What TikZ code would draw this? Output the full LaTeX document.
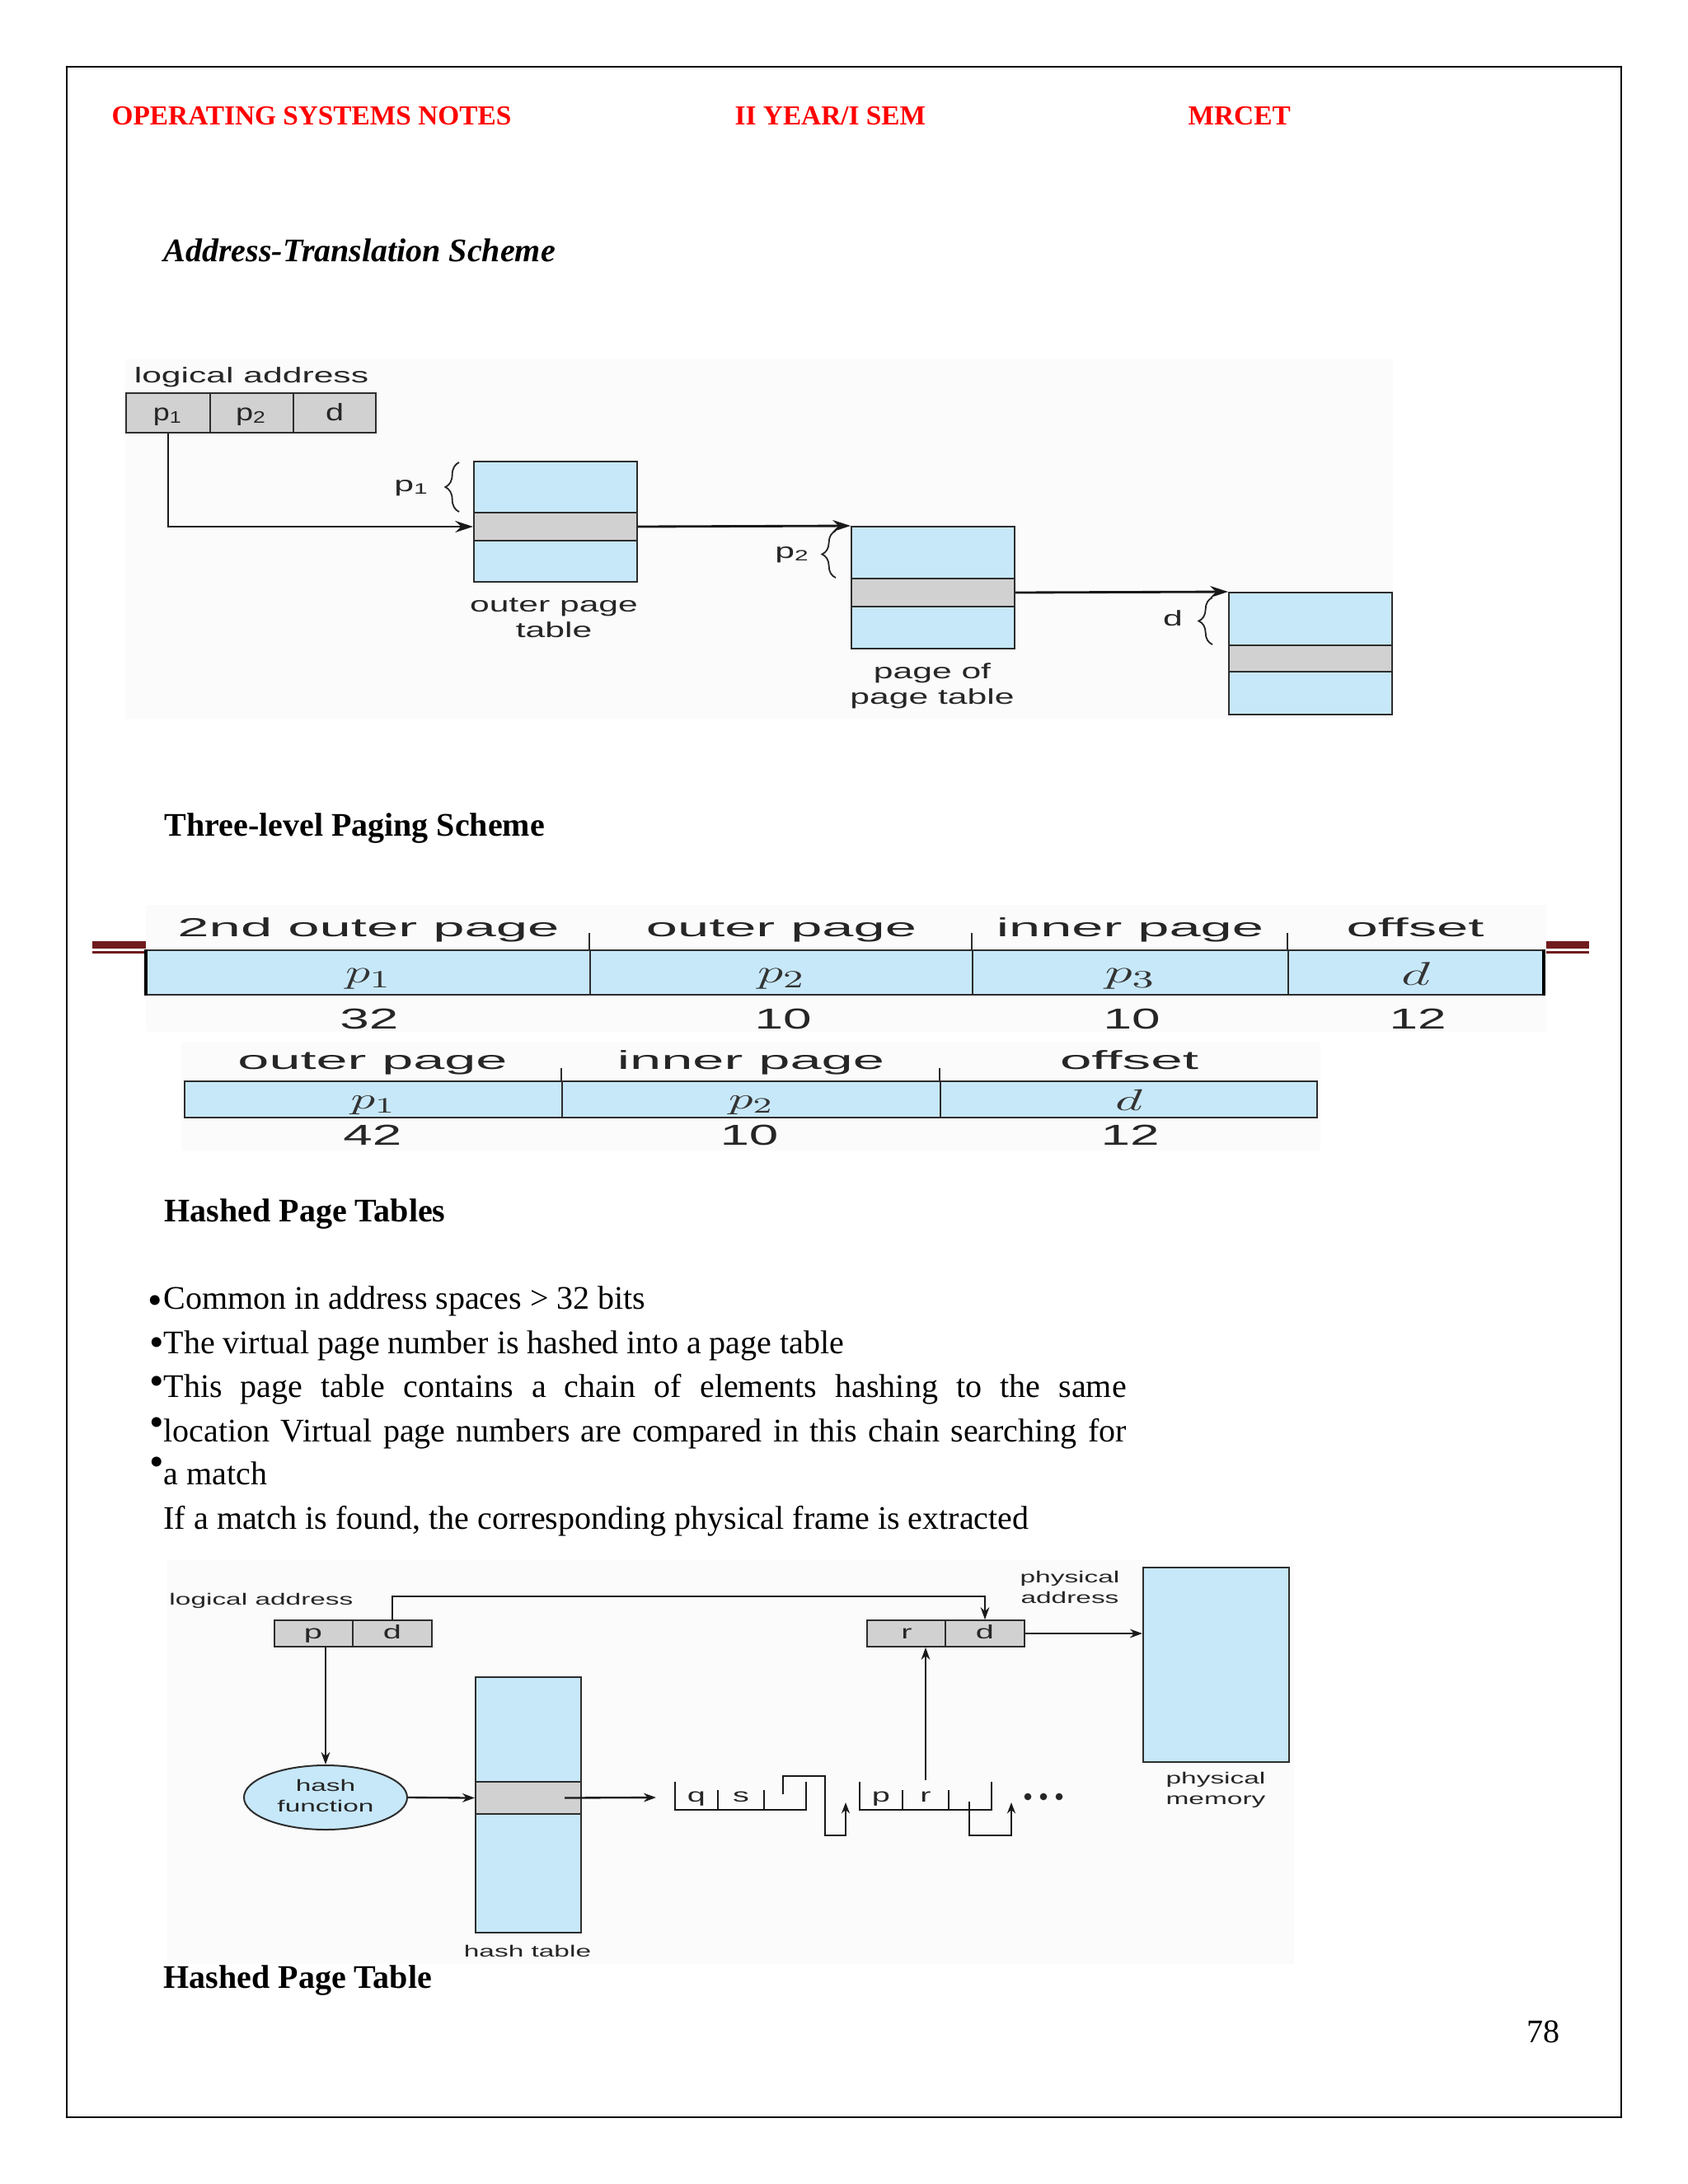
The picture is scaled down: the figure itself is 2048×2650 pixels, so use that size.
\documentclass[tikz,border=0pt]{standalone}
\usepackage{fontspec}
\setmainfont{Liberation Serif}
\setsansfont{Liberation Sans}
\usepackage{graphicx}
\usetikzlibrary{shapes, positioning, arrows.meta, fit, calc, decorations.pathreplacing}

\definecolor{tblue}{RGB}{199,232,249}
\definecolor{tgray}{RGB}{209,209,209}
\definecolor{tline}{RGB}{45,45,45}
\definecolor{hdred}{RGB}{255,0,0}
\definecolor{barred}{RGB}{112,28,30}
\definecolor{figbg}{RGB}{251,251,251}

\newlength{\pxu}
\setlength{\pxu}{0.3pt}
\newcommand{\wtext}[2]{\resizebox{#1\pxu}{\height}{#2}}
\newcommand{\sxa}[1]{\scalebox{1.64}[1]{#1}}
\newcommand{\sxh}[1]{\scalebox{1.7}[1]{#1}}
\newcommand{\twol}[2]{\begin{tabular}{@{}c@{}}#1\\#2\end{tabular}}

\tikzset{
  hdr/.style={anchor=base west, inner sep=0pt, text=hdred, font=\bfseries\fontsize{10}{12}\selectfont},
  ttl/.style={anchor=base west, inner sep=0pt, font=\bfseries\fontsize{12}{14}\selectfont},
  body/.style={anchor=base west, inner sep=0pt, font=\fontsize{12}{14}\selectfont},
  blt/.style={anchor=base, inner sep=0pt, font=\fontsize{15}{17}\selectfont},
  tbl/.style={draw=tline, line width=0.6pt, fill=tblue, inner sep=0pt},
  band/.style={draw=tline, line width=0.6pt, fill=tgray, inner sep=0pt},
  cell/.style={draw=tline, line width=0.5pt, fill=tgray, inner sep=0pt},
  lbl/.style={inner sep=0pt, text=black!85, font=\sffamily\fontsize{7.8}{9.3}\selectfont},
  clbl/.style={anchor=base, inner sep=0pt, text=black!85, font=\sffamily\fontsize{8.7}{10}\selectfont},
  hlbl/.style={inner sep=0pt, text=black!85, font=\sffamily\fontsize{5.9}{7.5}\selectfont},
  hclbl/.style={anchor=base, inner sep=0pt, text=black!85, font=\sffamily\fontsize{7}{8}\selectfont},
  brc/.style={decorate, decoration={brace, amplitude=5pt}, line width=0.55pt, black!85},
  arr/.style={-{Stealth[length=6.5pt, width=4.2pt]}, line width=0.85pt, black!90},
  arrh/.style={-{Stealth[length=4.5pt, width=3.2pt]}, line width=0.7pt, black!90},
  chn/.style={line width=0.75pt, black!90},
  fld/.style={draw=tline, line width=0.6pt, fill=tblue, inner sep=0pt},
  fmath/.style={inner sep=0pt, text=black!80, font=\fontsize{12.5}{14}\selectfont},
  flab/.style={anchor=base, inner sep=0pt, text=black!85, font=\sffamily\fontsize{9.5}{11}\selectfont},
  fnum/.style={anchor=base, inner sep=0pt, text=black!85, font=\sffamily\fontsize{10.5}{12}\selectfont},
  tick/.style={line width=0.6pt, tline},
  bg/.style={fill=figbg, draw=none}
}

\begin{document}
\begin{tikzpicture}[x=0.3pt, y=-0.3pt]
    % page
    \fill[white] (0,0) rectangle (2048,2650);
    \useasboundingbox (0,0) rectangle (2048,2650);
    \draw[line width=0.8pt] (81,81) rectangle (1967,2569);

    \node[hdr] (h1) at (135,151) {OPERATING SYSTEMS NOTES};
    \node[hdr] (h2) at (891,151) {II YEAR/I SEM};
    \node[hdr] (h3) at (1441,151) {MRCET};

    \node[ttl, font=\bfseries\itshape\fontsize{12}{14}\selectfont] (t-ats) at (198,317) {Address-Translation Scheme};

    % two-level translation
    \fill[bg] (152,436) rectangle (1690,872);
    \node[lbl] (la) at (305,458) {\sxa{logical address}};
    \node[cell, fit={(153,477) (255,525)}] (ap1) {};
    \node[cell, fit={(255,477) (356,525)}] (ap2) {};
    \node[cell, fit={(356,477) (456,525)}] (ad) {};
    \node[clbl] (ap1t) at (204,510) {\wtext{36}{p\textsubscript{1}}};
    \node[clbl] (ap2t) at (305,510) {\wtext{38}{p\textsubscript{2}}};
    \node[clbl] (adt) at (406,510) {\wtext{22}{d}};

    \node[tbl, fit={(575,560) (773,706)}] (t1) {};
    \node[band, fit={(575,622) (773,656)}] (b1) {};
    \node[tbl, fit={(1033,639) (1231,787)}] (t2) {};
    \node[band, fit={(1033,702) (1231,736)}] (b2) {};
    \node[tbl, fit={(1491,719) (1689,867)}] (t3) {};
    \node[band, fit={(1491,783) (1689,815)}] (b3) {};

    \draw[brc] ($(b1.north west)+(-17,0)$) -- ($(t1.north west)+(-17,2)$);
    \draw[brc] ($(b2.north west)+(-18,0)$) -- ($(t2.north west)+(-18,6)$);
    \draw[brc] ($(b3.north west)+(-19,0)$) -- ($(t3.north west)+(-19,7)$);
    \node[lbl] (bp1) at (500,592) {\sxa{p\textsubscript{1}}};
    \node[lbl] (bp2) at (962,673) {\sxa{p\textsubscript{2}}};
    \node[lbl] (bd) at (1423,750) {\sxa{d}};

    \draw[arr] (ap1.south) |- (b1.west);
    \draw[arr] (b1.east) -- (t2.north west);
    \draw[arr] (b2.east) -- (t3.north west);

    \node[lbl] (c1) at (672,752) {\sxa{\twol{outer page}{table}}};
    \node[lbl] (c2) at (1131,833) {\sxa{\twol{page of}{page table}}};

    \node[ttl] (t-three) at (199,1014) {Three-level Paging Scheme};

    % three-level address
    \fill[bg] (177,1098) rectangle (1876,1252);
    \fill[bg] (220,1264) rectangle (1602,1396);
    \fill[barred] (112,1142) rectangle (177,1151);
    \fill[barred] (112,1154) rectangle (177,1156.5);
    \fill[barred] (1876,1142) rectangle (1928,1151);
    \fill[barred] (1876,1154) rectangle (1928,1156.5);

    \node[fld, fit={(178,1153) (716,1207)}] (f1) {};
    \node[fld, fit={(716,1153) (1180,1207)}] (f2) {};
    \node[fld, fit={(1180,1153) (1563,1207)}] (f3) {};
    \node[fld, fit={(1563,1153) (1872,1207)}] (f4) {};
    \node[fmath] (f1t) at ($(f1)+(0,8)$) {\wtext{56}{$p_1$}};
    \node[fmath] (f2t) at ($(f2)+(0,8)$) {\wtext{58}{$p_2$}};
    \node[fmath] (f3t) at ($(f3)+(0,8)$) {\wtext{62}{$p_3$}};
    \node[fmath] (f4t) at ($(f4)+(0,2)$) {\wtext{35}{$d$}};
    \draw[line width=1.1pt] (f1.north west) -- (f1.south west);
    \draw[line width=1.1pt] (f4.north east) -- (f4.south east);
    \draw[tick] (f2.north west) -- ++(0,-20);
    \draw[tick] (f3.north west) -- ++(0,-20);
    \draw[tick] (f4.north west) -- ++(0,-20);

    \node[flab] (l1) at (447,1136) {\wtext{463}{2nd outer page}};
    \node[flab] (l2) at (948,1136) {\wtext{328}{outer page}};
    \node[flab] (l3) at (1371,1136) {\wtext{324}{inner page}};
    \node[flab] (l4) at (1717,1136) {\wtext{167}{offset}};
    \node[fnum] (n1) at (448,1248) {\wtext{71}{32}};
    \node[fnum] (n2) at (950,1248) {\wtext{69}{10}};
    \node[fnum] (n3) at (1373,1248) {\wtext{69}{10}};
    \node[fnum] (n4) at (1720,1248) {\wtext{69}{12}};

    % two-level address
    \node[fld, fit={(224,1312) (682,1356)}] (g1) {};
    \node[fld, fit={(682,1312) (1141,1356)}] (g2) {};
    \node[fld, fit={(1141,1312) (1598,1356)}] (g3) {};
    \node[fmath, font=\fontsize{11}{13}\selectfont] (g1t) at ($(g1)+(0,7)$) {\wtext{55}{$p_1$}};
    \node[fmath, font=\fontsize{11}{13}\selectfont] (g2t) at ($(g2)+(0,7)$) {\wtext{55}{$p_2$}};
    \node[fmath, font=\fontsize{11}{13}\selectfont] (g3t) at ($(g3)+(0,1)$) {\wtext{33}{$d$}};
    \draw[tick] (g2.north west) -- ++(0,-15);
    \draw[tick] (g3.north west) -- ++(0,-15);

    \node[flab] (m1) at (452,1297) {\wtext{327}{outer page}};
    \node[flab] (m2) at (911,1297) {\wtext{324}{inner page}};
    \node[flab] (m3) at (1370,1297) {\wtext{168}{offset}};
    \node[fnum] (k1) at (452,1389) {\wtext{71}{42}};
    \node[fnum] (k2) at (909,1389) {\wtext{71}{10}};
    \node[fnum] (k3) at (1371,1389) {\wtext{71}{12}};

    \node[ttl] (t-hpt) at (199,1482) {Hashed Page Tables};

    % notes
    \node[blt] (d1) at (188,1594) {\textbullet};
    \node[blt] (d2) at (190,1645) {\textbullet};
    \node[blt] (d3) at (190,1692) {\textbullet};
    \node[blt] (d4) at (190,1742) {\textbullet};
    \node[blt] (d5) at (190,1790) {\textbullet};
    \node[body] (s1) at (198,1588) {Common in address spaces > 32 bits};
    \node[body] (s2) at (198,1642) {The virtual page number is hashed into a page table};
    \node[body] (s3) at (198,1695) {\makebox[350.4pt][s]{This page table contains a chain of elements hashing to the same}};
    \node[body] (s4) at (198,1749) {\makebox[350.4pt][s]{location Virtual page numbers are compared in this chain searching for}};
    \node[body] (s5) at (198,1801) {a match};
    \node[body] (s6) at (198,1855) {If a match is found, the corresponding physical frame is extracted};

    % hashed page table
    \fill[bg] (203,1893) rectangle (1570,2383);
    \node[hlbl] (hla) at (317,1942) {\sxh{logical address}};
    \node[cell, fit={(333,1966) (428,1998)}] (lp) {};
    \node[cell, fit={(428,1966) (524,1998)}] (ld) {};
    \node[cell, fit={(1052,1966) (1147,1998)}] (rr) {};
    \node[cell, fit={(1147,1966) (1243,1998)}] (rdd) {};
    \node[hclbl] (lpt) at (380,1988) {\sxh{p}};
    \node[hclbl] (ldt) at (476,1988) {\sxh{d}};
    \node[hclbl] (rrt) at (1100,1988) {\sxh{r}};
    \node[hclbl] (rddt) at (1195,1988) {\sxh{d}};
    \node[hlbl] (hpa) at (1298,1928) {\sxh{\twol{physical}{address}}};
    \node[tbl, fit={(1387,1902) (1564,2138)}] (pm) {};
    \node[hlbl] (hpm) at (1475,2172) {\sxh{\twol{physical}{memory}}};

    \node[ellipse, draw=tline, line width=0.6pt, fill=tblue, minimum width=59.4pt, minimum height=23.4pt, inner sep=0pt, hlbl] (hf) at (395,2181) {\sxh{\twol{hash}{function}}};
    \node[tbl, fit={(577,2035) (705,2345)}] (ht) {};
    \node[band, fit={(577,2162) (705,2201)}] (hb) {};
    \node[hlbl] (hht) at (640,2367) {\sxh{hash table}};

    \draw[arrh] (hf.north |- lp.south) -- (hf.north);
    \draw[arrh] (hf.east) -- (hb.west);
    \draw[arrh] (ld.north) -- ++(0,-28) -| (rdd.north);
    \draw[arrh] (rdd.east) -- (rdd.east -| pm.west);

    % chain
    \coordinate (chin) at (796,2181);
    \draw[arrh] ($(hb.east)+(-21,0)$) -- (chin);
    \node[hclbl] (cq) at (845,2186) {\sxh{q}};
    \node[hclbl] (cs) at (899,2186) {\sxh{s}};
    \node[hclbl] (cp) at (1069,2186) {\sxh{p}};
    \node[hclbl] (cr) at (1123,2186) {\sxh{r}};
    \draw[chn] (819,2162) -- (819,2196) -- (978,2196) -- (978,2162);
    \draw[chn] (871,2172) -- (871,2196);
    \draw[chn] (927,2172) -- (927,2196);
    \draw[chn, -{Stealth[length=4pt, width=3pt]}] (950,2177) -- (950,2155) -- (1001,2155) -- (1001,2227) -- (1026,2227) -- (1026,2187);
    \draw[chn] (1043,2162) -- (1043,2196) -- (1203,2196) -- (1203,2162);
    \draw[chn] (1095,2172) -- (1095,2196);
    \draw[chn] (1151,2172) -- (1151,2196);
    \draw[chn, -{Stealth[length=4pt, width=3pt]}] (1176,2186) -- (1176,2227) -- (1227,2227) -- (1227,2187);
    \foreach \xx in {1247,1266,1285} \fill[black!85] (\xx,2180) circle (1.3pt);
    \draw[arrh] ($(cr.base)+(0,-26)$) -- (cr.base |- rr.south);

    \node[ttl] (t-hp) at (198,2412) {Hashed Page Table};
    \node[anchor=base east, inner sep=0pt, font=\fontsize{12}{14}\selectfont] (pg) at (1893,2478) {78};
\end{tikzpicture}
\end{document}
